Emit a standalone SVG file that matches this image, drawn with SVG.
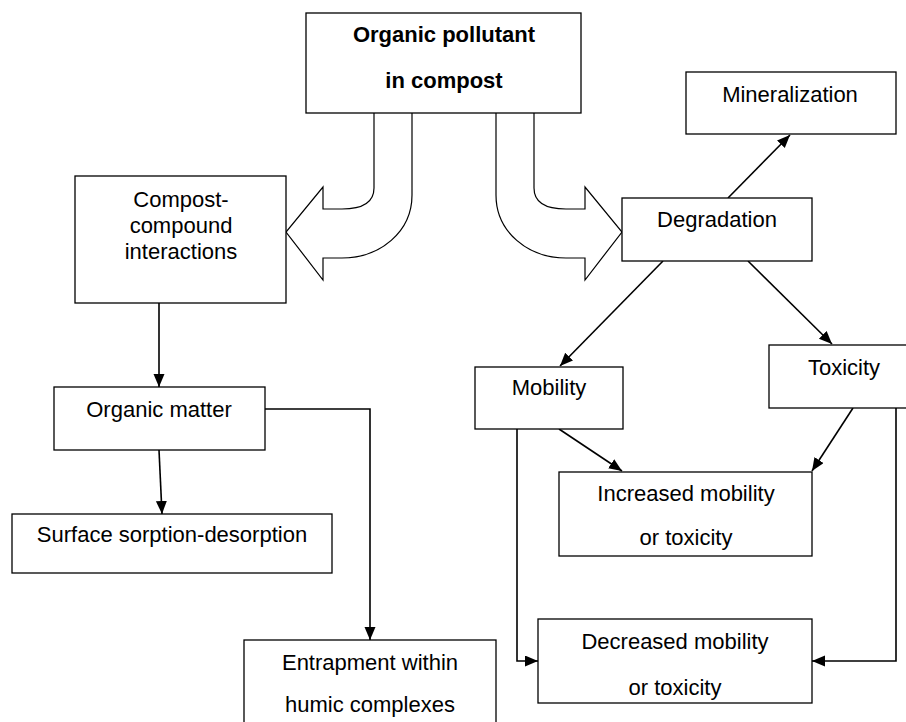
<svg xmlns="http://www.w3.org/2000/svg" width="906" height="722" viewBox="0 0 906 722">
<style>
.box{fill:#fff;stroke:#000;stroke-width:1.3}
.fat{fill:#fff;stroke:#000;stroke-width:1.2;stroke-linejoin:miter}
.t{font-family:"Liberation Sans",Arial,sans-serif;font-size:22px;fill:#000;text-anchor:middle}
.b{font-weight:bold}
.c{fill:none;stroke:#000;stroke-width:1.6}
</style>
<defs>
<marker id="ah" markerUnits="userSpaceOnUse" markerWidth="14" markerHeight="12" refX="13" refY="5.5" orient="auto">
<path d="M0,0 L13,5.5 L0,11 z" fill="#000"/>
</marker>
</defs>
<rect width="906" height="722" fill="#fff"/>
<g id="fat-arrows">
<path class="fat" d="M 374 113 L 374 188 C 374 202 364 209 342 209 L 323 209 L 323 187 L 286 232 L 323 280 L 323 258 L 342 258 C 380 258 412 232 412 195 L 412 113"/>
<path class="fat" d="M 534 113 L 534 188 C 534 202 544 209 566 209 L 585 209 L 585 187 L 622 232 L 585 280 L 585 258 L 566 258 C 528 258 496 232 496 195 L 496 113"/>
</g>
<g id="connectors">
<line class="c" x1="728" y1="198" x2="790" y2="135" marker-end="url(#ah)"/>
<line class="c" x1="663" y1="261" x2="560" y2="366" marker-end="url(#ah)"/>
<line class="c" x1="748" y1="261" x2="832" y2="344" marker-end="url(#ah)"/>
<line class="c" x1="559" y1="429" x2="622" y2="471" marker-end="url(#ah)"/>
<line class="c" x1="853" y1="408" x2="812" y2="471" marker-end="url(#ah)"/>
<polyline class="c" points="517,429 517,661 538,661" marker-end="url(#ah)"/>
<polyline class="c" points="896,408 896,661 812,661" marker-end="url(#ah)"/>
<line class="c" x1="159" y1="303" x2="159" y2="387" marker-end="url(#ah)"/>
<line class="c" x1="159" y1="450" x2="162" y2="514" marker-end="url(#ah)"/>
<polyline class="c" points="265,409 370,409 370,640" marker-end="url(#ah)"/>
</g>
<g id="organic-pollutant">
<rect class="box" x="306" y="13" width="275" height="100"/>
<text class="t b" x="444" y="42">Organic pollutant</text>
<text class="t b" x="444" y="88">in compost</text>
</g>
<g id="mineralization">
<rect class="box" x="686" y="72" width="210" height="62"/>
<text class="t" x="790" y="102">Mineralization</text>
</g>
<g id="degradation">
<rect class="box" x="622" y="198" width="190" height="63"/>
<text class="t" x="717" y="227">Degradation</text>
</g>
<g id="compost-compound">
<rect class="box" x="75" y="176" width="211" height="127"/>
<text class="t" x="181" y="207">Compost-</text>
<text class="t" x="181" y="233">compound</text>
<text class="t" x="181" y="259">interactions</text>
</g>
<g id="organic-matter">
<rect class="box" x="54" y="387" width="211" height="63"/>
<text class="t" x="159" y="417">Organic matter</text>
</g>
<g id="surface-sorption">
<rect class="box" x="12" y="514" width="320" height="59"/>
<text class="t" x="172" y="542">Surface sorption-desorption</text>
</g>
<g id="entrapment">
<rect class="box" x="244" y="640" width="252" height="90"/>
<text class="t" x="370" y="670">Entrapment within</text>
<text class="t" x="370" y="712">humic complexes</text>
</g>
<g id="mobility">
<rect class="box" x="475" y="367" width="148" height="62"/>
<text class="t" x="549" y="395">Mobility</text>
</g>
<g id="toxicity">
<rect class="box" x="769" y="345" width="145" height="63"/>
<text class="t" x="844" y="375">Toxicity</text>
</g>
<g id="increased">
<rect class="box" x="559" y="472" width="253" height="84"/>
<text class="t" x="686" y="501">Increased mobility</text>
<text class="t" x="686" y="545">or toxicity</text>
</g>
<g id="decreased">
<rect class="box" x="538" y="619" width="274" height="84"/>
<text class="t" x="675" y="649">Decreased mobility</text>
<text class="t" x="675" y="695">or toxicity</text>
</g>
</svg>
